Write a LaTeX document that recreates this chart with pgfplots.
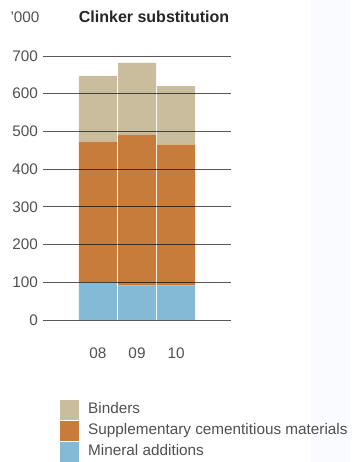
\documentclass[border=0pt]{standalone}
\usepackage{pgfplots}
\pgfplotsset{compat=1.18}
\usepackage{fontspec}
\setmainfont{Liberation Sans}
\definecolor{cbind}{HTML}{C9BD9E}
\definecolor{csup}{HTML}{C77C3B}
\definecolor{cmin}{HTML}{85BAD6}
\definecolor{ctxt}{HTML}{505050}
\definecolor{cpanel}{HTML}{FAFBFE}
\begin{document}
\begin{tikzpicture}
\useasboundingbox (0,0) rectangle (351pt,462pt);
\fill[white] (0,0) rectangle (351pt,462pt);
\fill[cpanel] (311pt,0) rectangle (351pt,462pt);
\node[font=\fontsize{15.3}{18}\selectfont, text=ctxt, anchor=center] at (25pt,445pt) {'000};
\node[font=\fontsize{16}{19}\selectfont\bfseries, text=black!85, anchor=center] at (154pt,445pt) {Clinker substitution};
\begin{axis}[
  at={(43pt,142pt)}, anchor=south west,
  scale only axis, width=188pt, height=264pt,
  xmin=-1.41, xmax=3.41, ymin=0, ymax=700,
  ybar stacked, bar width=38pt,
  axis on top,
  axis line style={draw=none},
  tick style={draw=none},
  xtick={0,1,2}, xticklabels={08,09,10},
  ytick={0,100,...,700},
  ymajorgrids,
  major grid style={draw=black, opacity=0.65, line width=0.9pt},
  /pgf/number format/assume math mode=true,
  ticklabel style={font=\fontsize{15.3}{18}\selectfont, text=ctxt},
  yticklabel style={anchor=east, inner sep=0pt, xshift=-5pt},
  xticklabel style={anchor=center, inner sep=0pt, yshift=-33pt},
  reverse legend,
  legend image code/.code={\fill[#1] (0pt,-9.75pt) rectangle (19pt,9.75pt);},
  legend style={draw=none, fill=none, at={(0.0904,-0.303)}, anchor=north west,
    inner sep=0pt, row sep=1.5pt, font=\fontsize{15.3}{18}\selectfont,
    text=ctxt, nodes={text height=13pt, text depth=6.5pt, inner xsep=9pt, inner ysep=0pt}},
  legend cell align=left,
]
\addplot[fill=cmin, draw=none] coordinates {(0,100) (1,92) (2,92)};
\addplot[fill=csup, draw=none] coordinates {(0,373) (1,399) (2,373)};
\addplot[fill=cbind, draw=none] coordinates {(0,174) (1,191) (2,155)};
\legend{Mineral additions, Supplementary cementitious materials, Binders}
\end{axis}
\end{tikzpicture}
\end{document}
